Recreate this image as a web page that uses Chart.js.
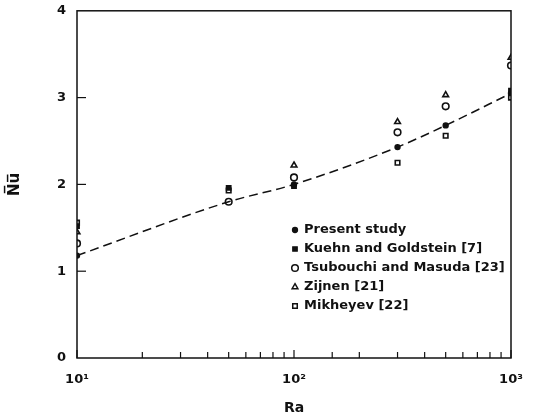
<!DOCTYPE html>
<html>
<head>
<meta charset="utf-8">
<script src="https://cdn.jsdelivr.net/npm/chart.js@4.4.1/dist/chart.umd.min.js"></script>
<style>
  html, body { margin: 0; padding: 0; background: #fff; }
</style>
</head>
<body>
<canvas id="nu" width="538" height="419"></canvas>
<script>
// Mean Nusselt number against Rayleigh number
const raPresent = [10, 50, 100, 300, 500, 1000];
const nuPresent = [1.18, 1.80, 2.00, 2.43, 2.68, 3.05];

const raKuehn = [10, 50, 100, 1000];
const nuKuehn = [1.52, 1.96, 1.98, 3.08];

const raTsubouchi = [10, 50, 100, 300, 500, 1000];
const nuTsubouchi = [1.32, 1.80, 2.08, 2.60, 2.90, 3.37];

const raZijnen = [10, 100, 300, 500, 1000];
const nuZijnen = [1.45, 2.22, 2.72, 3.03, 3.46];

const raMikheyev = [10, 50, 300, 500, 1000];
const nuMikheyev = [1.56, 1.93, 2.25, 2.56, 3.00];

const seriesNames = [
  'Present study',
  'Kuehn and Goldstein [7]',
  'Tsubouchi and Masuda [23]',
  'Zijnen [21]',
  'Mikheyev [22]'
];
const xTickLabels = { 10: '10\u00B9', 100: '10\u00B2', 1000: '10\u00B3' };

const pts = (xs, ys) => xs.map((x, i) => ({ x: x, y: ys[i] }));
const INK = '#111';
const FONT = '"DejaVu Sans", sans-serif';

function scatter(label, data, style, radius, filled) {
  return {
    type: 'scatter',
    label: label,
    data: data,
    pointStyle: style,
    pointRadius: radius,
    pointHoverRadius: radius,
    pointBorderWidth: 1.6,
    pointBorderColor: INK,
    pointBackgroundColor: filled ? INK : '#fff',
    showLine: false
  };
}

const datasets = [
  {
    type: 'line',
    label: 'fit',
    data: pts(raPresent, nuPresent),
    borderColor: INK,
    borderWidth: 1.5,
    borderDash: [9, 5],
    pointRadius: 0,
    cubicInterpolationMode: 'monotone',
    fill: false
  },
  scatter(seriesNames[1], pts(raKuehn, nuKuehn), 'rect', 3, true),
  scatter(seriesNames[4], pts(raMikheyev, nuMikheyev), 'rect', 3.2, false),
  scatter(seriesNames[2], pts(raTsubouchi, nuTsubouchi), 'circle', 3.3, false),
  scatter(seriesNames[3], pts(raZijnen, nuZijnen), 'triangle', 3.3, false),
  scatter(seriesNames[0], pts(raPresent, nuPresent), 'circle', 2.4, true)
];

// legend markers, in the order of seriesNames
const legendMarks = [
  { style: 'circle', r: 2.4, filled: true },
  { style: 'rect', r: 3, filled: true },
  { style: 'circle', r: 3.3, filled: false },
  { style: 'triangle', r: 3.3, filled: false },
  { style: 'rect', r: 3.2, filled: false }
];

function drawMark(ctx, m, x, y) {
  ctx.save();
  ctx.lineWidth = 1.5;
  ctx.strokeStyle = INK;
  ctx.fillStyle = m.filled ? INK : '#fff';
  ctx.beginPath();
  if (m.style === 'circle') {
    ctx.arc(x, y, m.r, 0, Math.PI * 2);
  } else if (m.style === 'rect') {
    const s = m.r * Math.SQRT1_2 * 2;
    ctx.rect(x - s / 2, y - s / 2, s, s);
  } else {
    ctx.moveTo(x, y - m.r);
    ctx.lineTo(x + m.r * 0.87, y + m.r * 0.5);
    ctx.lineTo(x - m.r * 0.87, y + m.r * 0.5);
    ctx.closePath();
  }
  ctx.fill();
  ctx.stroke();
  ctx.restore();
}

const frame = {
  id: 'frame',
  afterDraw(chart) {
    const ctx = chart.ctx;
    const a = chart.chartArea;
    const xs = chart.scales.x;
    const ys = chart.scales.y;
    ctx.save();
    ctx.strokeStyle = INK;
    ctx.lineWidth = 1.5;
    ctx.strokeRect(a.left, a.top, a.right - a.left, a.bottom - a.top);

    // inward ticks on the bottom axis
    ctx.lineWidth = 1.2;
    xs.ticks.forEach(t => {
      const px = xs.getPixelForValue(t.value);
      const major = xTickLabels[t.value] !== undefined;
      ctx.beginPath();
      ctx.moveTo(px, a.bottom);
      ctx.lineTo(px, a.bottom - (major ? 8 : 6));
      ctx.stroke();
    });
    // inward ticks on the left axis
    ys.ticks.forEach(t => {
      if (t.value === 0 || t.value === 4) return;
      const py = ys.getPixelForValue(t.value);
      ctx.beginPath();
      ctx.moveTo(a.left, py);
      ctx.lineTo(a.left + 9, py);
      ctx.stroke();
    });

    // legend inside the plot
    ctx.font = 'bold 13px ' + FONT;
    ctx.textBaseline = 'middle';
    ctx.textAlign = 'left';
    const lx = 295, ly0 = 230, step = 19;
    seriesNames.forEach((name, i) => {
      const y = ly0 + i * step;
      drawMark(ctx, legendMarks[i], lx, y);
      ctx.fillStyle = INK;
      ctx.fillText(name, lx + 9, y);
    });
    ctx.restore();
  }
};

new Chart(document.getElementById('nu'), {
  data: { datasets: datasets },
  options: {
    responsive: false,
    animation: false,
    layout: { padding: { top: 3, right: 27, left: 0, bottom: 0 } },
    plugins: {
      legend: { display: false },
      tooltip: { enabled: false }
    },
    scales: {
      x: {
        type: 'logarithmic',
        min: 10,
        max: 1000,
        grid: { display: false },
        border: { display: false },
        ticks: {
          autoSkip: false,
          maxRotation: 0,
          padding: 6,
          color: INK,
          font: { family: FONT, size: 13, weight: 'bold' },
          callback: v => xTickLabels[v] || ''
        },
        title: {
          display: true,
          text: 'Ra',
          color: INK,
          font: { family: FONT, size: 14, weight: 'bold' },
          padding: { top: 10, bottom: 2 }
        },
        afterFit: s => { s.height = 61; }
      },
      y: {
        type: 'linear',
        min: 0,
        max: 4,
        grid: { display: false },
        border: { display: false },
        ticks: {
          stepSize: 1,
          padding: 3,
          color: INK,
          font: { family: FONT, size: 13, weight: 'bold' }
        },
        title: {
          display: true,
          text: 'N\u0305u\u0305',
          color: INK,
          font: { family: FONT, size: 15, weight: 'bold' },
          padding: { top: 6, bottom: 4 }
        },
        afterFit: s => { s.width = 77; }
      }
    }
  },
  plugins: [frame]
});
</script>
</body>
</html>
